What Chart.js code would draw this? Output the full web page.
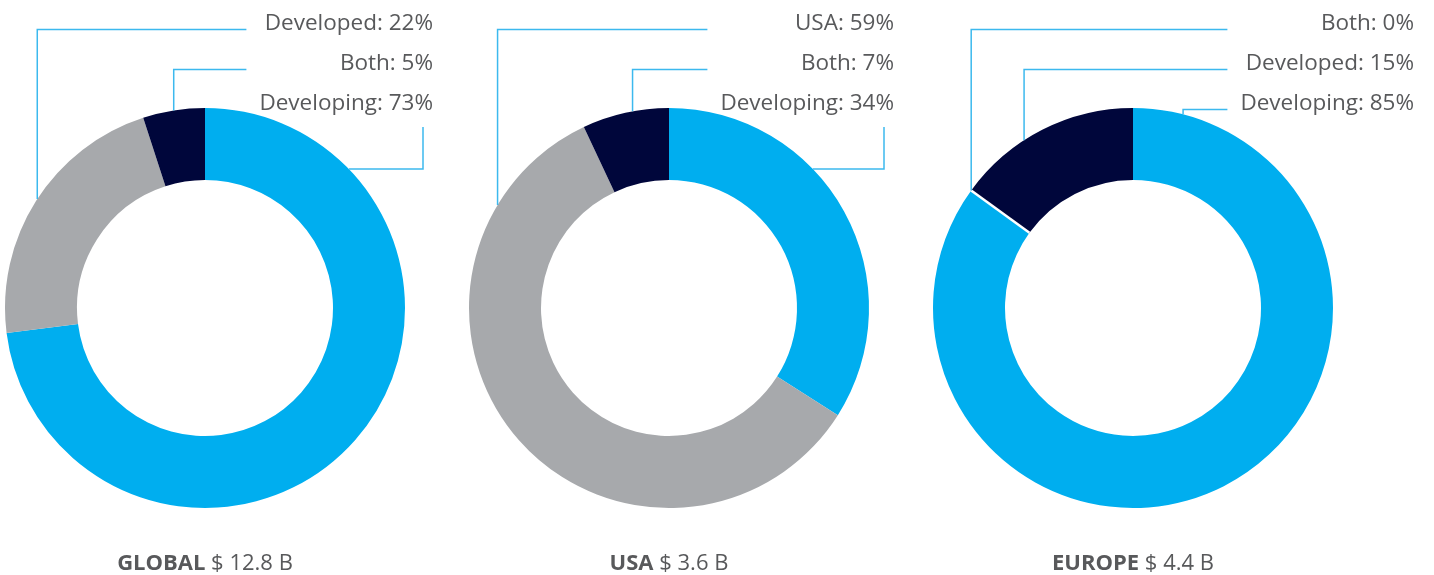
<!DOCTYPE html>
<html>
<head>
<meta charset="utf-8">
<script src="https://cdn.jsdelivr.net/npm/chart.js@4/dist/chart.umd.min.js"></script>
<style>
  html, body { margin: 0; padding: 0; background: #fff; }
  #wrap { position: relative; width: 1434px; height: 575px; overflow: hidden; }
  #wrap canvas { position: absolute; top: 0; }
  .region {
    position: absolute; top: 550px; width: 400px; text-align: center;
    font-family: "Open Sans", sans-serif; font-size: 22px; line-height: 22px;
    color: #58595b; white-space: nowrap;
  }
  .region b { font-weight: 700; }
</style>
</head>
<body>
<div id="wrap">
  <canvas id="globalChart" width="464" height="575" style="left:0px"></canvas>
  <canvas id="usaChart" width="464" height="575" style="left:464px"></canvas>
  <canvas id="europeChart" width="506" height="575" style="left:928px"></canvas>
</div>
<script>
// segment order: first slice starts at 12 o'clock and runs clockwise
const globalLabels = ["Developing", "Developed", "Both"];
const globalValues = [73, 22, 5];

const usaLabels = ["Developing", "USA", "Both"];
const usaValues = [34, 59, 7];

const europeLabels = ["Developing", "Both", "Developed"];
const europeValues = [85, 0, 15];

const regionNames = ["GLOBAL", "USA", "EUROPE"];
const regionTotals = ["$ 12.8 B", "$ 3.6 B", "$ 4.4 B"];

const sliceColors = ["#00aeef", "#a7a9ac", "#00063b"];
const textColor = "#58595b";
const leaderColor = "#3cb9ee";

// leader lines + labels, anchored on the arc elements
// anchors: degrees clockwise from 12 o'clock for rows top->bottom (null = slice middle)
const leaderPlugin = {
  id: "leaders",
  afterDraw(chart, args, opts) {
    const ctx = chart.ctx;
    const meta = chart.getDatasetMeta(0);
    const labels = chart.data.labels;
    const values = chart.data.datasets[0].data;
    const rowOrder = [1, 2, 0];
    const rowY = [29.5, 69.5, 109.5];

    ctx.save();
    ctx.font = "22.5px 'Open Sans', sans-serif";
    ctx.textAlign = "right";
    ctx.textBaseline = "alphabetic";
    ctx.fillStyle = textColor;

    let minLeft = Infinity;
    rowOrder.forEach((idx, r) => {
      const txt = `${labels[idx]}: ${values[idx]}%`;
      ctx.fillText(txt, opts.textRight, rowY[r]);
      minLeft = Math.min(minLeft, opts.textRight - ctx.measureText(txt).width);
    });
    const lineEnd = minLeft - 13;

    // white separator where a slice is zero
    meta.data.forEach((arc, i) => {
      if (values[i] !== 0) return;
      const a = arc.startAngle;
      ctx.strokeStyle = "#ffffff";
      ctx.lineWidth = 2.5;
      ctx.beginPath();
      ctx.moveTo(arc.x + arc.innerRadius * Math.cos(a), arc.y + arc.innerRadius * Math.sin(a));
      ctx.lineTo(arc.x + arc.outerRadius * Math.cos(a), arc.y + arc.outerRadius * Math.sin(a));
      ctx.stroke();
    });

    ctx.strokeStyle = leaderColor;
    ctx.lineWidth = 1.5;
    rowOrder.forEach((idx, r) => {
      const arc = meta.data[idx];
      const R = arc.outerRadius;
      const deg = opts.anchors[r];
      const a = deg == null
        ? (arc.startAngle + arc.endAngle) / 2
        : ((deg - 90) * Math.PI) / 180;
      const px = arc.x + R * Math.cos(a);
      const py = arc.y + R * Math.sin(a);
      ctx.beginPath();
      if (idx === 0 && opts.firstRoute === "side") {
        const sx = opts.textRight - 10;
        ctx.moveTo(sx, rowY[r] + 17.5);
        ctx.lineTo(sx, py);
        ctx.lineTo(px, py);
      } else {
        ctx.moveTo(lineEnd, rowY[r]);
        ctx.lineTo(px, rowY[r]);
        ctx.lineTo(px, py);
      }
      ctx.stroke();
    });
    ctx.restore();
  },
};

function drawDonut(canvasId, labels, values, leaderOpts) {
  const canvas = document.getElementById(canvasId);
  return new Chart(canvas, {
    type: "doughnut",
    data: {
      labels,
      datasets: [
        {
          data: values,
          backgroundColor: sliceColors,
          borderWidth: 0,
          hoverOffset: 0,
        },
      ],
    },
    options: {
      responsive: false,
      animation: false,
      cutout: "64%",
      layout: {
        padding: { left: 5, right: canvas.width - 405, top: 108, bottom: 67 },
      },
      plugins: {
        legend: { display: false },
        tooltip: { enabled: false },
        leaders: leaderOpts,
      },
    },
    plugins: [leaderPlugin],
  });
}

drawDonut("globalChart", globalLabels, globalValues, {
  textRight: 433, anchors: [303, null, 46], firstRoute: "side",
});
drawDonut("usaChart", usaLabels, usaValues, {
  textRight: 430, anchors: [301, 349.5, 46], firstRoute: "side",
});
drawDonut("europeChart", europeLabels, europeValues, {
  textRight: 486, anchors: [null, 327, 14.5], firstRoute: "top",
});

// region captions under each ring
const wrap = document.getElementById("wrap");
const centers = [205, 669, 1133];
regionNames.forEach((name, i) => {
  const div = document.createElement("div");
  div.className = "region";
  div.style.left = centers[i] - 200 + "px";
  const b = document.createElement("b");
  b.textContent = name;
  div.appendChild(b);
  div.appendChild(document.createTextNode(" " + regionTotals[i]));
  wrap.appendChild(div);
});
</script>
</body>
</html>
